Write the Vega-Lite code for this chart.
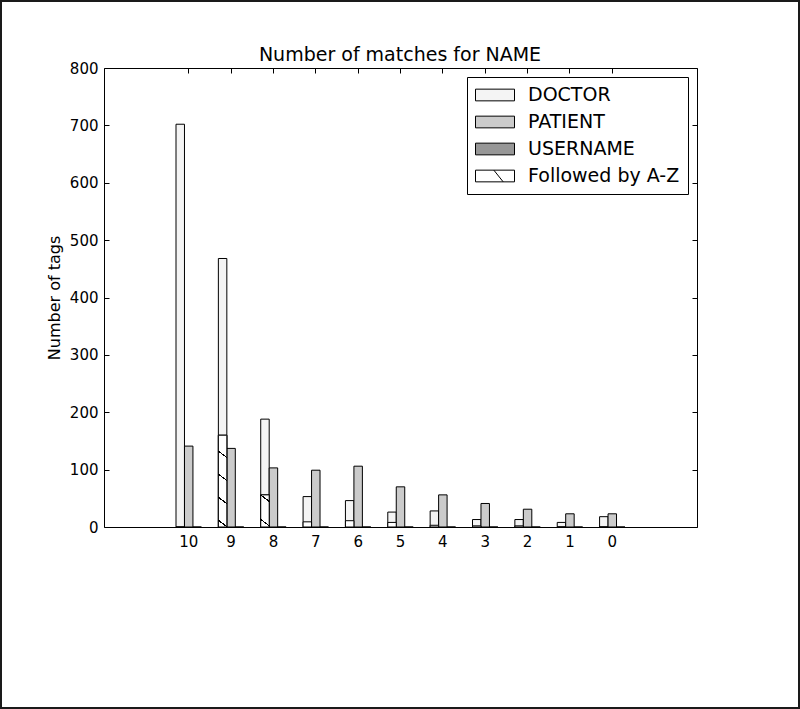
{
  "$schema": "https://vega.github.io/schema/vega-lite/v6.json",
  "width": 800,
  "height": 709,
  "autosize": "none",
  "padding": 0,
  "background": "white",
  "config": {
    "view": {"stroke": "#1a1a1a", "strokeWidth": 4, "fill": "white"},
    "font": "DejaVu Sans"
  },
  "title": {
    "text": "Number of matches for NAME",
    "fontSize": 19,
    "fontWeight": "normal",
    "color": "black",
    "font": "DejaVu Sans",
    "offset": -65,
    "anchor": "middle",
    "frame": "group"
  },
  "datasets": {
    "counts": [
      {"cat": "10", "series": "DOCTOR", "value": 702},
      {"cat": "10", "series": "PATIENT", "value": 141},
      {"cat": "10", "series": "USERNAME", "value": 0},
      {"cat": "9", "series": "DOCTOR", "value": 468},
      {"cat": "9", "series": "PATIENT", "value": 137},
      {"cat": "9", "series": "USERNAME", "value": 0},
      {"cat": "8", "series": "DOCTOR", "value": 188},
      {"cat": "8", "series": "PATIENT", "value": 103},
      {"cat": "8", "series": "USERNAME", "value": 0},
      {"cat": "7", "series": "DOCTOR", "value": 53},
      {"cat": "7", "series": "PATIENT", "value": 99},
      {"cat": "7", "series": "USERNAME", "value": 0},
      {"cat": "6", "series": "DOCTOR", "value": 46},
      {"cat": "6", "series": "PATIENT", "value": 106},
      {"cat": "6", "series": "USERNAME", "value": 0},
      {"cat": "5", "series": "DOCTOR", "value": 26},
      {"cat": "5", "series": "PATIENT", "value": 70},
      {"cat": "5", "series": "USERNAME", "value": 0},
      {"cat": "4", "series": "DOCTOR", "value": 28},
      {"cat": "4", "series": "PATIENT", "value": 56},
      {"cat": "4", "series": "USERNAME", "value": 0},
      {"cat": "3", "series": "DOCTOR", "value": 13},
      {"cat": "3", "series": "PATIENT", "value": 41},
      {"cat": "3", "series": "USERNAME", "value": 0},
      {"cat": "2", "series": "DOCTOR", "value": 13},
      {"cat": "2", "series": "PATIENT", "value": 31},
      {"cat": "2", "series": "USERNAME", "value": 0},
      {"cat": "1", "series": "DOCTOR", "value": 8},
      {"cat": "1", "series": "PATIENT", "value": 23},
      {"cat": "1", "series": "USERNAME", "value": 0},
      {"cat": "0", "series": "DOCTOR", "value": 18},
      {"cat": "0", "series": "PATIENT", "value": 23},
      {"cat": "0", "series": "USERNAME", "value": 0}
    ],
    "az": [
      {"cat": "10", "value": 0},
      {"cat": "9", "value": 160},
      {"cat": "8", "value": 56},
      {"cat": "7", "value": 9},
      {"cat": "6", "value": 11},
      {"cat": "5", "value": 8},
      {"cat": "4", "value": 3},
      {"cat": "3", "value": 2},
      {"cat": "2", "value": 2},
      {"cat": "1", "value": 0},
      {"cat": "0", "value": 0}
    ]
  },
  "layer": [
    {
      "data": {"name": "counts"},
      "mark": {"type": "bar", "stroke": "black", "strokeWidth": 1},
      "encoding": {
        "x": {
          "field": "cat", "type": "nominal",
          "scale": {"domain": ["padL","10","9","8","7","6","5","4","3","2","1","0","padR"], "range": [104, 697], "paddingInner": 0, "paddingOuter": 0.5},
          "axis": {"orient": "bottom", "offset": -182, "title": null, "labelAngle": 0, "grid": false,
                   "values": ["10","9","8","7","6","5","4","3","2","1","0"],
                   "domainColor": "black", "domainWidth": 1, "tickColor": "black", "tickSize": -5, "tickWidth": 1,
                   "labelPadding": 12, "labelFontSize": 15, "labelColor": "black", "labelFont": "DejaVu Sans"}
        },
        "xOffset": {
          "field": "series", "type": "nominal",
          "scale": {"domain": ["DOCTOR", "PATIENT", "USERNAME"], "paddingInner": 0, "paddingOuter": 1}
        },
        "y": {
          "field": "value", "type": "quantitative",
          "scale": {"domain": [0, 800], "range": [527, 68], "nice": false},
          "axis": {"orient": "left", "offset": -104, "values": [0,100,200,300,400,500,600,700,800], "grid": false,
                   "domainColor": "black", "domainWidth": 1, "tickColor": "black", "tickSize": -5, "tickWidth": 1,
                   "labelPadding": 11, "labelFontSize": 15, "labelColor": "black", "labelFont": "DejaVu Sans",
                   "title": "Number of tags", "titleFontSize": 16, "titleFontWeight": "normal", "titleColor": "black",
                   "titleFont": "DejaVu Sans", "titlePadding": 7}
        },
        "fill": {
          "field": "series", "type": "nominal",
          "scale": {"domain": ["DOCTOR", "PATIENT", "USERNAME", "Followed by A-Z"], "range": ["#f4f4f4", "#cbcbcb", "#979797", "#ffffff"]},
          "legend": {
            "orient": "none", "legendX": 467, "legendY": 77, "title": null,
            "strokeColor": "black", "fillColor": "white", "padding": 8, "cornerRadius": 0,
            "labelFontSize": 19, "labelFont": "DejaVu Sans", "labelColor": "black",
            "symbolSize": 1521, "symbolStrokeColor": "black", "symbolStrokeWidth": 1,
            "symbolType": "M-1,-0.3H1V0.3H-1Z", "labelOffset": 13, "rowPadding": 7, "clipHeight": 20,
            "symbolOpacity": 1,
            "encode": {"symbols": {"update": {"shape": {"signal": "datum.value === 'Followed by A-Z' ? 'M-1,-0.3H1V0.3H-1Z M-0.06,-0.3L0.42,0.3' : 'M-1,-0.3H1V0.3H-1Z'"}}}}
          }
        }
      }
    },
    {
      "data": {"name": "az"},
      "mark": {"type": "bar", "stroke": "black", "strokeWidth": 1},
      "encoding": {
        "x": {"field": "cat", "type": "nominal",
              "axis": {"orient": "top", "offset": -68, "labels": false, "title": null, "grid": false,
                       "values": ["10","9","8","7","6","5","4","3","2","1","0"],
                       "domainColor": "black", "domainWidth": 1, "tickColor": "black", "tickSize": -5, "tickWidth": 1}},
        "xOffset": {"datum": "DOCTOR", "type": "nominal"},
        "y": {"field": "value", "type": "quantitative",
              "axis": {"orient": "right", "offset": -103, "labels": false, "title": null, "grid": false,
                       "values": [0,100,200,300,400,500,600,700,800],
                       "domainColor": "black", "domainWidth": 1, "tickColor": "black", "tickSize": -5, "tickWidth": 1}},
        "fill": {"datum": "Followed by A-Z", "type": "nominal"}
      }
    },
    {
      "data": {"name": "az"},
      "transform": [{"filter": "datum.cat === '9'"}],
      "mark": {"type": "bar", "stroke": "black", "strokeWidth": 1,
               "fill": {"gradient": "linear", "x1": 0.069, "y1": 0, "x2": 0, "y2": 1,
                        "stops": [
                          {"offset": 0, "color": "white"}, {"offset": 0.17, "color": "white"},
                          {"offset": 0.17, "color": "black"}, {"offset": 0.185, "color": "black"},
                          {"offset": 0.185, "color": "white"}, {"offset": 0.42, "color": "white"},
                          {"offset": 0.42, "color": "black"}, {"offset": 0.435, "color": "black"},
                          {"offset": 0.435, "color": "white"}, {"offset": 0.67, "color": "white"},
                          {"offset": 0.67, "color": "black"}, {"offset": 0.685, "color": "black"},
                          {"offset": 0.685, "color": "white"}, {"offset": 0.92, "color": "white"},
                          {"offset": 0.92, "color": "black"}, {"offset": 0.935, "color": "black"},
                          {"offset": 0.935, "color": "white"}, {"offset": 1, "color": "white"}
                        ]}},
      "encoding": {
        "x": {"field": "cat", "type": "nominal", "axis": null},
        "xOffset": {"datum": "DOCTOR", "type": "nominal"},
        "y": {"field": "value", "type": "quantitative", "axis": null}
      }
    },
    {
      "data": {"name": "az"},
      "transform": [{"filter": "datum.cat === '8'"}],
      "mark": {"type": "bar", "stroke": "black", "strokeWidth": 1,
               "fill": {"gradient": "linear", "x1": 0.199, "y1": 0, "x2": 0, "y2": 1,
                        "stops": [
                          {"offset": 0, "color": "white"}, {"offset": 0.02, "color": "white"},
                          {"offset": 0.02, "color": "black"}, {"offset": 0.064, "color": "black"},
                          {"offset": 0.064, "color": "white"}, {"offset": 0.75, "color": "white"},
                          {"offset": 0.75, "color": "black"}, {"offset": 0.794, "color": "black"},
                          {"offset": 0.794, "color": "white"}, {"offset": 1, "color": "white"}
                        ]}},
      "encoding": {
        "x": {"field": "cat", "type": "nominal", "axis": null},
        "xOffset": {"datum": "DOCTOR", "type": "nominal"},
        "y": {"field": "value", "type": "quantitative", "axis": null}
      }
    }
  ],
  "resolve": {"axis": {"x": "independent", "y": "independent"}}
}
